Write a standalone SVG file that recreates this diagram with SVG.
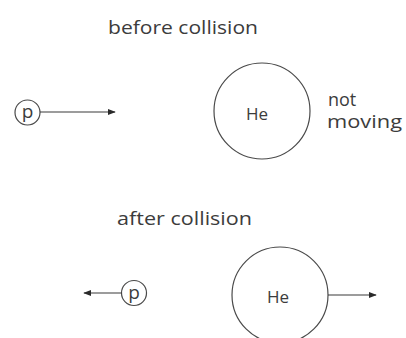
<svg xmlns="http://www.w3.org/2000/svg" width="406" height="338" viewBox="0 0 406 338">
<style>
text{font-family:"Open Sans","Noto Sans",sans-serif;fill:#3c3c3c;}
.lbl{font-size:19px;}
.nm{font-size:18px;}
.in{font-size:17px;text-anchor:middle;}
.p{font-size:19px;text-anchor:middle;}
.c{fill:none;stroke:#4a4a4a;stroke-width:1.2;}
.a{stroke:#3a3a3a;stroke-width:1.2;fill:none;marker-end:url(#ah);}
</style>
<defs>
<marker id="ah" viewBox="0 0 10 10" refX="9" refY="5" markerWidth="8" markerHeight="8" markerUnits="userSpaceOnUse" orient="auto">
<path d="M0,1 L10,5 L0,9 z" fill="#2a2a2a"/>
</marker>
</defs>
<rect width="406" height="338" fill="#fff"/>
<text class="lbl" x="108" y="34" textLength="150" lengthAdjust="spacingAndGlyphs">before collision</text>
<text class="lbl" x="117" y="225" textLength="135" lengthAdjust="spacingAndGlyphs">after collision</text>
<g id="p1"><circle class="c" cx="27.5" cy="112.5" r="12.5"/><text class="p" x="27.5" y="118">p</text></g>
<g id="he1"><circle class="c" cx="262" cy="111" r="48"/><text class="in" x="257" y="120">He</text></g>
<g id="nm"><text class="nm" x="328" y="106">not</text><text class="nm" x="327" y="128" textLength="75" lengthAdjust="spacingAndGlyphs">moving</text></g>
<g id="p2"><circle class="c" cx="134" cy="293" r="12.5"/><text class="p" x="134" y="298.5">p</text></g>
<g id="he2"><circle class="c" cx="280" cy="295" r="48"/><text class="in" x="278" y="303">He</text></g>
<g id="connectors">
<line class="a" x1="40" y1="112" x2="115" y2="112"/>
<line class="a" x1="121.5" y1="293" x2="84" y2="293"/>
<line class="a" x1="328" y1="295" x2="376" y2="295"/>
</g>
</svg>
